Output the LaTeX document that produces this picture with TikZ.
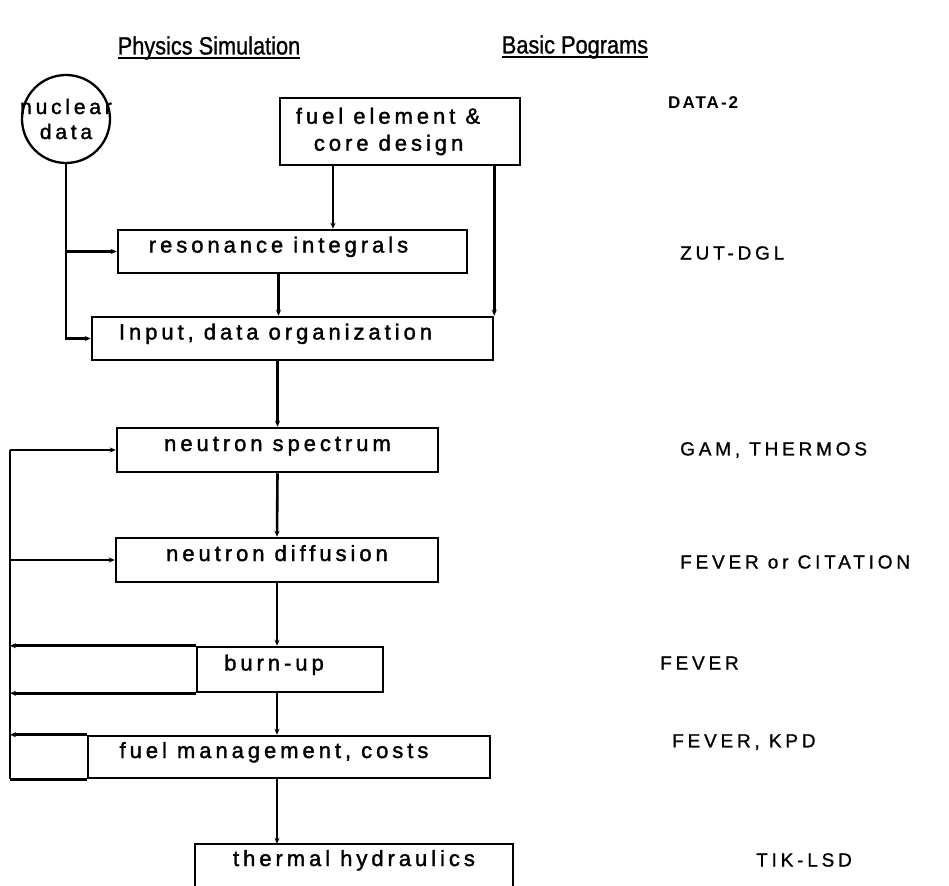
\documentclass[tikz,border=0pt]{standalone}
\usepackage{fontspec}
\setmainfont{Liberation Sans}
\newfontfamily\boxf[LetterSpace=18,FakeBold=1.6]{Liberation Sans}
\newfontfamily\progf[LetterSpace=20,FakeBold=1]{Liberation Sans}
\newfontfamily\dataf[LetterSpace=12]{Liberation Sans}
\newfontfamily\headf[FakeStretch=0.87,FakeBold=1]{Liberation Sans}
\usetikzlibrary{arrows.meta,calc}
\begin{document}
\begin{tikzpicture}[x=1pt,y=-1pt,
  box/.style={draw, line width=2.5pt, rectangle, inner sep=0pt,
    font={\boxf\fontsize{22}{27}\selectfont}, text height=12pt, text depth=10pt},
  boxtext/.style={inner sep=0pt, font={\boxf\fontsize{22}{27}\selectfont}, text height=12pt, text depth=10pt},
  conn/.style={line width=2.6pt, -{Stealth[length=6pt,width=5pt]}},
  plain/.style={line width=2.6pt},
  prog/.style={inner sep=0pt, anchor=west, font={\progf\fontsize{19}{22}\selectfont}},
  head/.style={inner sep=0pt, font={\headf\fontsize{25}{30}\selectfont}}
]
\useasboundingbox (0,0) rectangle (949,885);
\fill[white] (0,0) rectangle (949,885);

% headers
\node[head] (h1) at (209,48) {Physics Simulation};
\node[head] (h2) at (575,47) {Basic Pograms};
\draw[line width=2pt] ([yshift=-4pt]h1.base west) -- ([yshift=-4pt]h1.base east);
\draw[line width=2pt] ([yshift=-4pt]h2.base west) -- ([yshift=-4pt]h2.base east);

% nodes
\node[circle, draw, line width=2.3pt, minimum size=88pt, inner sep=0pt, align=center,
  font={\boxf\fontsize{21}{25}\selectfont}] (nuc) at (66,119)
  {\makebox[0pt]{nuclear}\\\makebox[0pt]{data}};
\node[box, minimum width=240pt, minimum height=67pt, align=left, text height=, text depth=] (fuel) at (400,131.5)
  {fuel element \&\hspace*{24pt}\\\hspace*{18pt}core design};
\node[box, minimum width=349pt, minimum height=43pt] (res) at (292.5,251.5) {resonance integrals\hspace*{28pt}};
\node[box, minimum width=401pt, minimum height=43pt] (inp) at (292.5,338.5) {Input, data organization\hspace*{34pt}};
\node[box, minimum width=321pt, minimum height=44pt] (spec) at (277.5,450) {neutron spectrum};
\node[box, minimum width=322pt, minimum height=44pt] (diff) at (277,560) {neutron diffusion};
\node[box, minimum width=186pt, minimum height=45pt] (burn) at (290,669.5) {burn-up\hspace*{32pt}};
\node[box, minimum width=402pt, minimum height=42pt] (fuelm) at (289,757) {fuel management, costs\hspace*{30pt}};
\node[boxtext, minimum width=318pt, minimum height=42pt] (therm) at (354,865) {thermal hydraulics};
\draw[line width=2.5pt] ($(therm.north west)+(0,60)$) -- (therm.north west) -- (therm.north east) -- ($(therm.north east)+(0,60)$);

% programs
\node[prog, font={\dataf\bfseries\fontsize{17}{20}\selectfont}] (p1) at (668,103) {DATA-2};
\node[prog] (p2) at (680,253) {ZUT-DGL};
\node[prog] (p3) at (680,450) {GAM, THERMOS};
\node[prog] (p4) at (680,562) {FEVER or CITATION};
\node[prog] (p5) at (660,663) {FEVER};
\node[prog] (p6) at (672,742) {FEVER, KPD};
\node[prog] (p7) at (756,860) {TIK-LSD};

% connectors (top part)
\draw[conn] (nuc.south) |- (inp.west);
\draw[conn, line width=3.4pt] (nuc.south |- res.west) -- (res.west);
\draw[conn] ([xshift=-67pt]fuel.south) -- ([xshift=-67pt]fuel.south |- res.north);
\draw[conn] (inp.north east |- fuel.south) -- (inp.north east);
\draw[conn] ([xshift=-14pt]res.south) -- ([xshift=-14pt]res.south |- inp.north);
\draw[conn] (spec.north |- inp.south) -- (spec.north);
\draw[conn] (spec.south) -- (diff.north);
\draw[conn] (diff.south) -- (diff.south |- burn.north);
\draw[conn] (diff.south |- burn.south) -- (diff.south |- fuelm.north);
\draw[conn] (diff.south |- fuelm.south) -- (diff.south |- therm.north);

% left feedback loop
\coordinate (lx) at (10,0);
\draw[plain] (lx |- spec.west) -- (lx |- fuelm.south);
\draw[conn] (lx |- spec.west) -- (spec.west);
\draw[conn] (lx |- diff.west) -- (diff.west);
\draw[conn] (burn.north west) -- (lx |- burn.north);
\draw[conn] (burn.south west) -- (lx |- burn.south);
\draw[conn] (fuelm.north west) -- (lx |- fuelm.north);
\draw[plain] (fuelm.south west) -- (lx |- fuelm.south);
\end{tikzpicture}
\end{document}
